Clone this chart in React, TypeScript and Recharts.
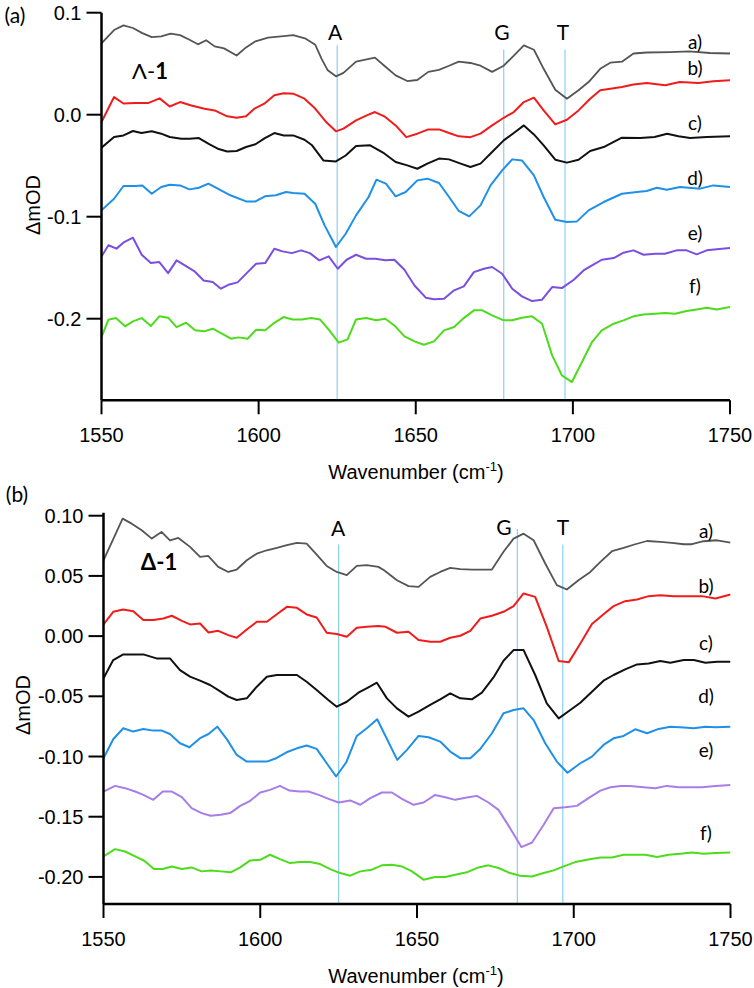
import React from 'react';
import { LineChart, Line, XAxis, YAxis, ReferenceLine } from 'recharts';

type P = [number, number];

// ---------- Panel (a): Λ-1 ----------
const topA: P[] = [[1550,0.070],[1554,0.083],[1557,0.0876],[1560,0.085],[1563,0.080],[1566,0.076],[1569,0.0768],[1572,0.0794],[1575,0.078],[1578,0.0735],[1580.7,0.069],[1583.3,0.073],[1586,0.067],[1589,0.065],[1593,0.058],[1596,0.066],[1599,0.072],[1603,0.0755],[1608,0.077],[1611,0.078],[1615,0.0745],[1618,0.0686],[1620,0.055],[1622,0.0435],[1624.6,0.0376],[1627,0.041],[1631,0.052],[1634,0.054],[1637,0.056],[1640,0.048],[1643.6,0.0386],[1647.3,0.033],[1650.5,0.034],[1654,0.042],[1657.4,0.044],[1660.6,0.048],[1663.7,0.052],[1667.4,0.0507],[1670.6,0.048],[1674.3,0.042],[1678,0.048],[1681.2,0.058],[1684.4,0.068],[1687.6,0.0637],[1690.7,0.045],[1694.4,0.0245],[1698.1,0.0157],[1701.8,0.024],[1705,0.032],[1708.7,0.045],[1711.9,0.051],[1715.6,0.052],[1719.3,0.060],[1723.5,0.061],[1731,0.0614],[1737,0.062],[1743.6,0.0605],[1750,0.060]];
const topB: P[] = [[1550,-0.0072],[1554,0.0173],[1557,0.011],[1560.6,0.0114],[1564.8,0.0114],[1568.5,0.016],[1571.7,0.008],[1575,0.0124],[1578.6,0.009],[1582.8,0.0059],[1586,0.0042],[1590,-0.0016],[1593,-0.003],[1596,-0.0016],[1598.7,0.006],[1601.8,0.0108],[1605,0.019],[1608,0.021],[1611,0.0206],[1614.6,0.0157],[1618,0.006],[1621.5,-0.0072],[1624.6,-0.0163],[1627,-0.0137],[1631,-0.0056],[1634.4,-0.0007],[1637,0.0026],[1640,-0.0016],[1643.6,-0.0105],[1647,-0.022],[1650.5,-0.0186],[1654,-0.0144],[1657.4,-0.0144],[1660.6,-0.018],[1663.7,-0.0212],[1667.4,-0.022],[1670.6,-0.0186],[1674.3,-0.0105],[1678,-0.003],[1681.2,0.0026],[1684.4,0.0124],[1687.6,0.0167],[1690.7,0.0042],[1694.4,-0.0095],[1698.1,-0.005],[1701.8,0.0042],[1705.5,0.0157],[1708.7,0.0239],[1711.9,0.0255],[1715.6,0.0271],[1719.3,0.0297],[1723.5,0.031],[1729.4,0.0288],[1734,0.032],[1740,0.031],[1744.7,0.0327],[1750,0.0337]];
const topC: P[] = [[1550,-0.0324],[1554,-0.0219],[1557,-0.0203],[1560,-0.016],[1562.7,-0.018],[1566,-0.0163],[1569,-0.0186],[1571.7,-0.0219],[1575.4,-0.0235],[1578,-0.0235],[1581,-0.0229],[1584.4,-0.029],[1587,-0.0333],[1590,-0.036],[1593,-0.0356],[1596,-0.0317],[1599,-0.029],[1602,-0.0229],[1605,-0.018],[1608,-0.0203],[1611,-0.0203],[1614.6,-0.0245],[1617,-0.030],[1620.6,-0.0448],[1624.6,-0.0458],[1627.7,-0.040],[1631,-0.0307],[1635.5,-0.030],[1640,-0.038],[1643.6,-0.0464],[1647.3,-0.0497],[1650.5,-0.053],[1653.7,-0.048],[1657.4,-0.043],[1660.6,-0.0438],[1664.3,-0.048],[1667.4,-0.0513],[1670.6,-0.048],[1674.3,-0.0366],[1678,-0.0252],[1681.2,-0.018],[1684.4,-0.0105],[1687.6,-0.0193],[1690.7,-0.030],[1694.4,-0.0441],[1698.1,-0.047],[1701.8,-0.0441],[1705.5,-0.0356],[1709.8,-0.0317],[1715.6,-0.0225],[1721.4,-0.0229],[1726,-0.0219],[1730,-0.0186],[1733.6,-0.0212],[1737.3,-0.0229],[1742.6,-0.0219],[1750,-0.0212]];
const topD: P[] = [[1550,-0.0938],[1554,-0.0824],[1557,-0.0699],[1560.6,-0.0699],[1563,-0.0693],[1566,-0.0775],[1569,-0.0709],[1571.7,-0.0686],[1575,-0.0693],[1578,-0.0732],[1581,-0.0716],[1584,-0.0676],[1587,-0.0725],[1591,-0.079],[1596,-0.085],[1599,-0.085],[1602,-0.080],[1605.5,-0.079],[1608.7,-0.0758],[1611,-0.0768],[1614.6,-0.0775],[1618,-0.0873],[1621,-0.1085],[1624.6,-0.1297],[1627.7,-0.1167],[1631,-0.0987],[1635,-0.0807],[1637.5,-0.0637],[1640.5,-0.0676],[1643.6,-0.080],[1646.8,-0.0758],[1650.5,-0.0644],[1653.7,-0.0627],[1657.4,-0.067],[1660.6,-0.0807],[1663.7,-0.0944],[1667,-0.0997],[1670.6,-0.0889],[1673.8,-0.0693],[1677.5,-0.0546],[1680.7,-0.0438],[1683.8,-0.0448],[1687.6,-0.0595],[1690.7,-0.0807],[1694.4,-0.103],[1698.1,-0.1052],[1701.3,-0.1046],[1705,-0.0938],[1709.8,-0.0856],[1715.6,-0.0775],[1720.4,-0.0758],[1723.5,-0.0748],[1726.7,-0.0716],[1729.9,-0.0735],[1734.1,-0.0709],[1740.5,-0.0725],[1744.7,-0.0693],[1750,-0.0709]];
const topE: P[] = [[1550,-0.139],[1552.2,-0.128],[1554.8,-0.1313],[1557.2,-0.1249],[1560,-0.1206],[1562.8,-0.1373],[1565.7,-0.1455],[1568.4,-0.1445],[1571.2,-0.1553],[1573.9,-0.1428],[1576.9,-0.1484],[1579.5,-0.1533],[1582.5,-0.1625],[1585.4,-0.1641],[1588,-0.1706],[1590.7,-0.1664],[1593.3,-0.1644],[1596.2,-0.1553],[1599.2,-0.1461],[1602.1,-0.1455],[1605,-0.1314],[1607.6,-0.134],[1610.6,-0.1357],[1613.5,-0.133],[1616.3,-0.1357],[1619.3,-0.1428],[1622.3,-0.1389],[1625.2,-0.151],[1628,-0.1422],[1631,-0.1373],[1634.2,-0.1412],[1637.2,-0.1412],[1640.3,-0.1428],[1643.2,-0.1422],[1646.4,-0.152],[1649.6,-0.1674],[1653.2,-0.1794],[1655.8,-0.181],[1659,-0.1804],[1662.2,-0.1722],[1665.3,-0.1683],[1668.5,-0.1543],[1671.7,-0.151],[1674.3,-0.1493],[1677.5,-0.1559],[1680.7,-0.1706],[1683.8,-0.1781],[1687,-0.1827],[1690.2,-0.1814],[1693.4,-0.169],[1696.5,-0.170],[1700.3,-0.1618],[1703.4,-0.1527],[1706.1,-0.1477],[1709.2,-0.1422],[1713,-0.1406],[1716.1,-0.1353],[1719.3,-0.133],[1722.5,-0.1373],[1726.2,-0.1363],[1729.3,-0.1363],[1733,-0.133],[1736.2,-0.133],[1739.4,-0.1369],[1742.6,-0.133],[1745.8,-0.132],[1750,-0.1307]];
const topF: P[] = [[1550,-0.218],[1552.2,-0.201],[1554.6,-0.1994],[1557.5,-0.2075],[1560,-0.2026],[1562.8,-0.1994],[1565.7,-0.2072],[1568.4,-0.1977],[1571.2,-0.199],[1573.9,-0.2082],[1576.9,-0.204],[1579.8,-0.2114],[1582.7,-0.2124],[1585.4,-0.2098],[1588.3,-0.2147],[1591.2,-0.2196],[1593.6,-0.2183],[1596.5,-0.2196],[1599.2,-0.2108],[1602.1,-0.2114],[1605,-0.204],[1607.9,-0.1984],[1610.8,-0.2007],[1613.8,-0.2007],[1616.7,-0.1994],[1619.5,-0.2007],[1622.3,-0.2108],[1625.5,-0.2235],[1628.3,-0.2203],[1631,-0.2007],[1634.2,-0.1994],[1637.4,-0.2016],[1640.3,-0.2],[1643.2,-0.2066],[1646.4,-0.2173],[1649.6,-0.2222],[1652.6,-0.2255],[1655.8,-0.2222],[1659,-0.2114],[1662.2,-0.2082],[1665.3,-0.1994],[1668.5,-0.1918],[1671.2,-0.1918],[1674.3,-0.1967],[1678,-0.2016],[1680.7,-0.2016],[1683.8,-0.199],[1687,-0.1977],[1690.2,-0.2049],[1693.4,-0.236],[1696.5,-0.2556],[1699.7,-0.2621],[1702.9,-0.2425],[1706.1,-0.2229],[1709.2,-0.2114],[1713,-0.2049],[1716.1,-0.2016],[1719.3,-0.1977],[1722.5,-0.1958],[1726.2,-0.1951],[1729.3,-0.1945],[1732.5,-0.1951],[1736.2,-0.1925],[1739.4,-0.1909],[1742.6,-0.1892],[1745.8,-0.1909],[1750,-0.1886]];

// ---------- Panel (b): Δ-1 ----------
const botA: P[] = [[1550,0.063],[1556.1,0.0976],[1559,0.0934],[1562.2,0.0879],[1565.4,0.081],[1568.5,0.0865],[1571.2,0.0796],[1573.9,0.0815],[1577.6,0.0741],[1580.8,0.0658],[1583.4,0.0666],[1586.6,0.0575],[1589.8,0.0533],[1592.5,0.0553],[1595.7,0.063],[1598.9,0.0685],[1602.1,0.0713],[1605.3,0.0732],[1608.5,0.0755],[1611.7,0.0774],[1614.8,0.0768],[1618,0.0677],[1621.2,0.0583],[1624.4,0.0533],[1627.6,0.0506],[1630.8,0.0583],[1634,0.0589],[1637.7,0.0575],[1639.5,0.0547],[1643.6,0.0464],[1647.3,0.0415],[1650.5,0.0409],[1654.2,0.0492],[1657.4,0.0533],[1660.6,0.0567],[1663.8,0.0556],[1667.5,0.0553],[1670.7,0.0553],[1673.9,0.0553],[1677.6,0.070],[1680.8,0.081],[1684,0.0851],[1687.2,0.0796],[1690.9,0.0603],[1694.6,0.0423],[1697.8,0.0387],[1701.5,0.0464],[1705.3,0.0533],[1708.5,0.0616],[1712.2,0.0705],[1715.9,0.0732],[1719.6,0.0763],[1723.4,0.079],[1727.6,0.0782],[1731.3,0.0774],[1735.1,0.0763],[1737.7,0.0763],[1741.4,0.0788],[1745.7,0.0796],[1750,0.0777]];
const botB: P[] = [[1550,0.0097],[1553.1,0.0202],[1556.3,0.0221],[1559.5,0.0207],[1562.7,0.0133],[1565.9,0.0133],[1569.1,0.0146],[1571.8,0.0169],[1575,0.0127],[1577.6,0.0097],[1580.8,0.0105],[1583.5,0.003],[1586.6,0.0044],[1589.8,0.0008],[1592.5,-0.0014],[1595.7,0.0055],[1598.9,0.0119],[1602.1,0.0119],[1605.3,0.0182],[1608.5,0.0243],[1611.7,0.0235],[1614.8,0.018],[1618,0.0155],[1621.2,0.0028],[1624.4,0.0017],[1627.6,-0.0006],[1630.8,0.0069],[1634,0.0077],[1637.7,0.0083],[1640,0.0077],[1643.6,0.0028],[1647.3,0.0036],[1650.5,-0.0033],[1654.2,-0.0047],[1657.4,-0.0047],[1660.6,-0.0014],[1663.8,0.0003],[1667,0.0044],[1670.2,0.0146],[1673.9,0.0169],[1677.6,0.0202],[1680.8,0.0249],[1684,0.0354],[1687.7,0.0326],[1691.4,0.0077],[1695.2,-0.0207],[1698.4,-0.0218],[1702.1,-0.0061],[1705.8,0.01],[1709.5,0.0182],[1712.7,0.0249],[1716.4,0.029],[1720.2,0.0304],[1723.9,0.0332],[1727.6,0.034],[1731.9,0.0332],[1736.1,0.0332],[1740.9,0.0332],[1745.2,0.0312],[1750,0.0345]];
const botC: P[] = [[1550,-0.0351],[1553.1,-0.0199],[1556.3,-0.0152],[1559.5,-0.0152],[1562.7,-0.0152],[1566.9,-0.0185],[1571.2,-0.0185],[1574.4,-0.0282],[1577.6,-0.0337],[1580.8,-0.037],[1584,-0.0406],[1586.6,-0.0448],[1589.8,-0.0503],[1592.5,-0.0531],[1595.7,-0.0517],[1598.9,-0.042],[1602.1,-0.0337],[1605.3,-0.0323],[1608.5,-0.0323],[1611.7,-0.0323],[1614.8,-0.0379],[1618,-0.0448],[1621.7,-0.0531],[1624.4,-0.0586],[1627.6,-0.0545],[1631.3,-0.047],[1634.5,-0.0426],[1637.2,-0.0387],[1640.4,-0.0517],[1643.6,-0.060],[1647.3,-0.0669],[1650.5,-0.0627],[1654.2,-0.0572],[1657.4,-0.0525],[1660.6,-0.0475],[1663.8,-0.0517],[1667.5,-0.0525],[1670.7,-0.047],[1674.4,-0.0343],[1677.6,-0.0205],[1680.8,-0.0116],[1684,-0.0116],[1687.7,-0.0323],[1691.4,-0.0558],[1695.2,-0.0683],[1698.9,-0.0614],[1702.1,-0.0553],[1705.8,-0.0462],[1709.5,-0.037],[1712.7,-0.0323],[1716.4,-0.0276],[1720.2,-0.0235],[1723.9,-0.0227],[1727.6,-0.0207],[1730.8,-0.0221],[1735.1,-0.0199],[1738.3,-0.0199],[1742,-0.0221],[1745.7,-0.0213],[1750,-0.0213]];
const botD: P[] = [[1550,-0.1014],[1553.1,-0.0857],[1556.3,-0.0765],[1559.5,-0.0793],[1562.7,-0.0771],[1565.9,-0.0785],[1568.6,-0.0785],[1571.2,-0.0813],[1574.4,-0.089],[1577.4,-0.0923],[1580.8,-0.0848],[1583.5,-0.0813],[1586.3,-0.0752],[1589.5,-0.0862],[1592.5,-0.0987],[1595.7,-0.1042],[1598.9,-0.1042],[1602.1,-0.1042],[1605.1,-0.1014],[1608.4,-0.0965],[1611.7,-0.0932],[1614.8,-0.0909],[1618,-0.0937],[1621.2,-0.1056],[1624.2,-0.1166],[1627.4,-0.105],[1630.8,-0.0829],[1634,-0.0765],[1637.3,-0.069],[1643.7,-0.1028],[1646.8,-0.0945],[1650.5,-0.0829],[1653.7,-0.084],[1657.4,-0.0876],[1660.6,-0.0959],[1663.8,-0.1014],[1667,-0.1014],[1670.2,-0.0937],[1673.9,-0.0807],[1677.6,-0.0641],[1680.8,-0.0614],[1684,-0.060],[1687.2,-0.0697],[1690.9,-0.089],[1694.6,-0.1042],[1698,-0.1135],[1702.1,-0.1056],[1705.8,-0.1001],[1709.5,-0.0904],[1712.7,-0.0849],[1715.9,-0.0829],[1719.6,-0.0774],[1723.4,-0.0807],[1727.1,-0.0771],[1730.8,-0.0752],[1735.1,-0.076],[1738.3,-0.0765],[1742,-0.0752],[1745.2,-0.0757],[1750,-0.0752]];
const botE: P[] = [[1550,-0.1291],[1553.7,-0.1244],[1556.9,-0.1263],[1560.1,-0.1291],[1562.7,-0.1319],[1565.9,-0.136],[1568.9,-0.1291],[1571.8,-0.1291],[1575,-0.1338],[1578.1,-0.1429],[1581.3,-0.147],[1584.2,-0.1492],[1587.4,-0.1484],[1590.4,-0.147],[1593.6,-0.141],[1596.8,-0.1368],[1600,-0.1299],[1603.1,-0.1277],[1606.3,-0.1244],[1609.3,-0.1283],[1612.5,-0.1291],[1615.4,-0.1291],[1618.6,-0.1319],[1621.8,-0.1352],[1625,-0.1382],[1628.7,-0.1365],[1631.9,-0.1401],[1635.1,-0.1346],[1638.8,-0.1299],[1642,-0.1299],[1645.2,-0.1352],[1648.9,-0.1401],[1652.1,-0.1382],[1655.8,-0.1319],[1659,-0.1338],[1662.2,-0.136],[1665.9,-0.1341],[1669.1,-0.1327],[1672.8,-0.1382],[1676,-0.1443],[1679.7,-0.1595],[1683.3,-0.1752],[1686.7,-0.1714],[1690.4,-0.1567],[1693.6,-0.1429],[1697.3,-0.1421],[1701,-0.141],[1704.7,-0.1346],[1708.5,-0.1283],[1711.7,-0.1255],[1714.9,-0.1244],[1718,-0.1244],[1722.3,-0.1255],[1726,-0.1263],[1729.7,-0.1244],[1733.5,-0.1255],[1737.2,-0.1255],[1740.9,-0.1255],[1745.2,-0.1244],[1750,-0.1236]];
const botF: P[] = [[1550,-0.183],[1553.7,-0.1769],[1556.9,-0.1789],[1560.1,-0.183],[1563,-0.1866],[1566.1,-0.1935],[1568.9,-0.1935],[1571.8,-0.1913],[1575,-0.1935],[1578.1,-0.1921],[1581.3,-0.1954],[1584.2,-0.1946],[1587.4,-0.1954],[1590.6,-0.1962],[1593.6,-0.1921],[1596.8,-0.1863],[1600,-0.1858],[1603.1,-0.1816],[1606.3,-0.1852],[1609.5,-0.1885],[1612.7,-0.1877],[1615.9,-0.1877],[1619.1,-0.1893],[1622.3,-0.1935],[1625.5,-0.1968],[1628.7,-0.199],[1631.9,-0.1954],[1635.6,-0.194],[1638.8,-0.1904],[1642,-0.1899],[1645.2,-0.1913],[1648.4,-0.1954],[1652.1,-0.2023],[1655.8,-0.2001],[1659,-0.2001],[1662.2,-0.1982],[1665.9,-0.1962],[1669.6,-0.1921],[1672.8,-0.1904],[1676,-0.1926],[1679.7,-0.1968],[1682.9,-0.199],[1686.7,-0.1996],[1690.4,-0.1968],[1693.6,-0.1946],[1696.8,-0.1913],[1700.5,-0.1877],[1704.2,-0.1858],[1708.5,-0.1838],[1712.2,-0.1838],[1715.9,-0.1816],[1719.1,-0.1816],[1722.8,-0.1816],[1726.6,-0.1835],[1730.3,-0.1816],[1734,-0.1808],[1737.7,-0.1797],[1741.4,-0.1808],[1745.2,-0.1802],[1750,-0.1797]];

// ticks and markers
const xTicks = [1550, 1600, 1650, 1700, 1750];
const topYTicks = [0.1, 0.0, -0.1, -0.2];
const botYTicks = [0.1, 0.05, 0.0, -0.05, -0.1, -0.15, -0.2];
const topMarkers = [
  { name: 'A', w: 1625, top: 0.068 },
  { name: 'G', w: 1678, top: 0.064 },
  { name: 'T', w: 1697.5, top: 0.064 },
];
const botMarkers = [
  { name: 'A', w: 1625, top: 0.076 },
  { name: 'G', w: 1682, top: 0.089 },
  { name: 'T', w: 1696.5, top: 0.076 },
];
const traceLabels = ['a)', 'b)', 'c)', 'd)', 'e)', 'f)'];

const rows = (p: P[]) => p.map(([w, v]) => ({ w, v }));

const sans = '"Liberation Sans", Arial, sans-serif';
const tickFont = { fontFamily: sans, fontSize: 20, fill: '#000' };
const axisStyle = { stroke: '#000', strokeWidth: 2.5 };
const lineW = 2;
const vColor = '#8ccff0';

const Txt: React.FC<{ x: number; y: number; size?: number; family?: string; weight?: number; rotate?: boolean; children: React.ReactNode }> = ({ x, y, size = 19, family = 'Lato, "Open Sans", sans-serif', weight = 400, rotate, children }) => (
  <div
    style={{
      position: 'absolute', left: x, top: y, transform: `translate(-50%, -50%)${rotate ? ' rotate(-90deg)' : ''}`,
      fontFamily: family, fontSize: size, fontWeight: weight, color: '#000', whiteSpace: 'nowrap', lineHeight: 1,
    }}
  >
    {children}
  </div>
);

interface PanelProps {
  series: { data: P[]; color: string; width?: number }[];
  yDomain: [number, number];
  yTicks: number[];
  digits: number;
  left: number;
  right: number;
  top: number;
  height: number;
  bottomSpace: number;
  xMargin: number;
  markers: { name: string; w: number; top: number }[];
}

const Panel: React.FC<PanelProps> = ({ series, yDomain, yTicks, digits, left, right, top, height, bottomSpace, xMargin, markers }) => (
  <LineChart width={754} height={height} margin={{ top, right, bottom: bottomSpace - 50, left: 0 }}>
    <XAxis xAxisId="b" dataKey="w" type="number" domain={[1550, 1750]} ticks={xTicks} allowDataOverflow
      tick={tickFont} tickSize={14} tickMargin={xMargin} height={50} axisLine={axisStyle} tickLine={{ stroke: '#000', strokeWidth: 2 }} />
    <XAxis xAxisId="t" orientation="top" dataKey="w" type="number" domain={[1550, 1750]} tick={false} tickLine={false} height={0}
      axisLine={axisStyle} />
    <YAxis yAxisId="l" type="number" domain={yDomain} ticks={yTicks} allowDataOverflow width={left}
      tickFormatter={(v: number) => v.toFixed(digits)} tick={tickFont} tickSize={15} tickMargin={5}
      axisLine={axisStyle} tickLine={{ stroke: '#000', strokeWidth: 2 }} />
    <YAxis yAxisId="r" orientation="right" type="number" domain={yDomain} tick={false} tickLine={false} width={0}
      axisLine={{ stroke: '#000', strokeWidth: 2 }} />
    {markers.map((m) => (
      <ReferenceLine key={m.name} xAxisId="b" yAxisId="l" stroke={vColor} strokeWidth={1.2}
        segment={[{ x: m.w, y: m.top }, { x: m.w, y: yDomain[0] }]} />
    ))}
    {series.map((s, i) => (
      <Line key={i} xAxisId="b" yAxisId="l" data={rows(s.data)} dataKey="v" type="linear" stroke={s.color}
        strokeWidth={s.width ?? lineW} dot={false} isAnimationActive={false} strokeLinejoin="round" />
    ))}
  </LineChart>
);

export default function App() {
  const gray = '#555555';
  const red = '#f01c1c';
  const black = '#111111';
  const blue = '#1e90e8';
  const green = '#4cdc1c';
  const topLabelY = [41, 67, 122, 177, 232, 285];
  const botLabelY = [530, 585, 642, 695, 749, 832];
  return (
    <div style={{ position: 'absolute', left: 0, top: 0, width: 754, height: 988, background: '#fff' }}>
      <div style={{ position: 'absolute', left: 0, top: 0 }}>
        <Panel
          series={[
            { data: topA, color: gray, width: 1.8 },
            { data: topB, color: red },
            { data: topC, color: black },
            { data: topD, color: blue },
            { data: topE, color: '#7a4fe0' },
            { data: topF, color: green },
          ]}
          yDomain={[-0.28, 0.1]} yTicks={topYTicks} digits={1}
          left={101.5} right={24} top={12.7} height={480} bottomSpace={79.7} xMargin={13}
          markers={topMarkers}
        />
      </div>
      <div style={{ position: 'absolute', left: 0, top: 490 }}>
        <Panel
          series={[
            { data: botA, color: gray, width: 1.8 },
            { data: botB, color: red },
            { data: botC, color: black },
            { data: botD, color: blue },
            { data: botE, color: '#a77de8' },
            { data: botF, color: green },
          ]}
          yDomain={[-0.2225, 0.1025]} yTicks={botYTicks} digits={2}
          left={103.5} right={23.5} top={22.7} height={498} bottomSpace={84} xMargin={14}
          markers={botMarkers}
        />
      </div>

      {/* panel labels */}
      <Txt x={15} y={14} size={21}>(a)</Txt>
      <Txt x={17} y={493} size={21}>(b)</Txt>

      {/* compound labels */}
      <Txt x={150} y={71} size={22}><span>Λ-</span><span style={{ fontWeight: 700 }}>1</span></Txt>
      <Txt x={159} y={562} size={22} weight={700}>Δ-1</Txt>

      {/* A G T */}
      <Txt x={335} y={31} size={21}>A</Txt>
      <Txt x={502} y={31} size={21}>G</Txt>
      <Txt x={563} y={31} size={21}>T</Txt>
      <Txt x={338} y={527} size={21}>A</Txt>
      <Txt x={504} y={526} size={21}>G</Txt>
      <Txt x={563} y={526} size={21}>T</Txt>

      {/* trace labels */}
      {traceLabels.map((t, i) => (
        <Txt key={'t' + t} x={695} y={topLabelY[i]} size={19}>{t}</Txt>
      ))}
      {traceLabels.map((t, i) => (
        <Txt key={'b' + t} x={706} y={botLabelY[i]} size={19}>{t}</Txt>
      ))}

      {/* axis titles */}
      <Txt x={33} y={205} size={20} family={sans} rotate>ΔmOD</Txt>
      <Txt x={23} y={705} size={20} family={sans} rotate>ΔmOD</Txt>
      <Txt x={416} y={471} size={20} family={sans}>Wavenumber (cm<sup style={{ fontSize: 13 }}>-1</sup>)</Txt>
      <Txt x={416} y={975} size={20} family={sans}>Wavenumber (cm<sup style={{ fontSize: 13 }}>-1</sup>)</Txt>
    </div>
  );
}
